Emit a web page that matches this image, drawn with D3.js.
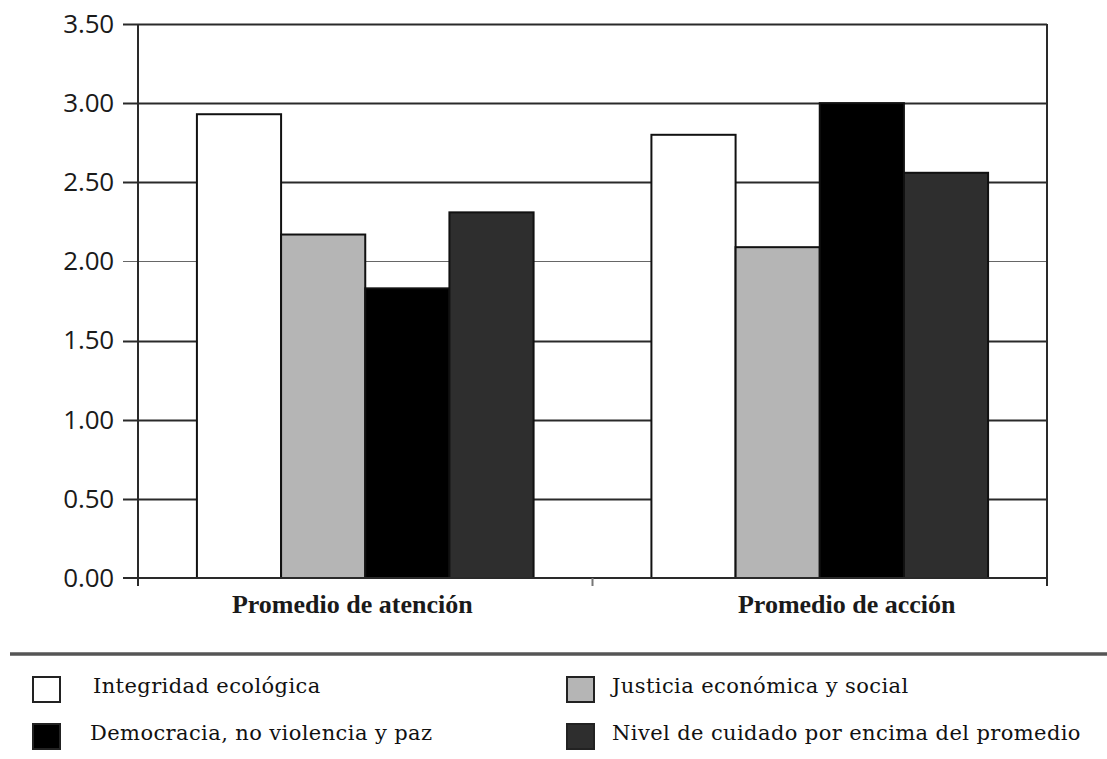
<!DOCTYPE html>
<html>
<head>
<meta charset="utf-8">
<script src="https://cdn.jsdelivr.net/npm/d3@7"></script>
<style>
  html, body { margin: 0; padding: 0; background: #fff; }
  svg { display: block; }
</style>
</head>
<body>
<svg id="chart" width="1107" height="759"></svg>
<script>
// Grouped values per indicator
const groups = ["Promedio de atención", "Promedio de acción"];
const seriesNames = [
  "Integridad ecológica",
  "Justicia económica y social",
  "Democracia, no violencia y paz",
  "Nivel de cuidado por encima del promedio"
];
const integridad = [2.93, 2.80];
const justicia = [2.17, 2.09];
const democracia = [1.83, 3.00];
const cuidado = [2.31, 2.56];
const yTicks = [0, 0.5, 1.0, 1.5, 2.0, 2.5, 3.0, 3.5];
const fills = ["#ffffff", "#b5b5b5", "#000000", "#2e2e2e"];

const seriesValues = [integridad, justicia, democracia, cuidado];

const svg = d3.select("#chart");
const plotLeft = 138, plotRight = 1047, plotTop = 24, plotBottom = 578;

const y = d3.scaleLinear().domain([0, 3.5]).range([plotBottom, plotTop]);
const x0 = d3.scaleBand().domain(groups).range([plotLeft, plotRight]).padding(0);
const x1 = d3.scaleBand().domain(d3.range(seriesNames.length))
  .range([0, x0.bandwidth()]).paddingInner(0).paddingOuter(0.7);

// horizontal grid lines with ticks sticking out to the left
const grid = svg.append("g");
grid.selectAll("line").data(yTicks.filter(d => d > 0)).join("line")
  .attr("x1", plotLeft - 15).attr("x2", plotRight)
  .attr("y1", d => Math.round(y(d)) + 0.5).attr("y2", d => Math.round(y(d)) + 0.5)
  .attr("stroke", d => d === 2.0 ? "#666" : "#2a2a2a")
  .attr("stroke-width", d => d === 2.0 ? 1.2 : 2);

// y axis labels
const yAxis = d3.axisLeft(y).tickValues(yTicks).tickFormat(d3.format(".2f"))
  .tickSize(0).tickPadding(24);
const ya = svg.append("g").attr("transform", `translate(${plotLeft},0)`).call(yAxis);
ya.select(".domain").remove();
ya.selectAll("text")
  .attr("font-family", "'Open Sans', sans-serif")
  .attr("font-size", 26)
  .attr("letter-spacing", "-0.2px")
  .attr("fill", "#1a1a1a");

// bars
const bars = svg.append("g");
groups.forEach((g, gi) => {
  bars.selectAll(null).data(seriesValues.map((vals, si) => ({ si, v: vals[gi] })))
    .join("rect")
    .attr("x", d => x0(g) + x1(d.si))
    .attr("y", d => y(d.v))
    .attr("width", x1.bandwidth())
    .attr("height", d => y(0) - y(d.v))
    .attr("fill", d => fills[d.si])
    .attr("stroke", "#111")
    .attr("stroke-width", 2);
});

// frame: left axis, right border, baseline
const frame = svg.append("g").attr("stroke", "#2a2a2a").attr("stroke-width", 2);
frame.append("line").attr("x1", plotLeft).attr("x2", plotLeft).attr("y1", plotTop).attr("y2", plotBottom + 8);
frame.append("line").attr("x1", plotRight).attr("x2", plotRight).attr("y1", plotTop).attr("y2", plotBottom + 8);
frame.append("line").attr("x1", plotLeft - 15).attr("x2", plotRight).attr("y1", plotBottom).attr("y2", plotBottom);
frame.append("line").attr("x1", x0(groups[1])).attr("x2", x0(groups[1]))
  .attr("y1", plotBottom).attr("y2", plotBottom + 8).attr("stroke", "#777");

// category labels
const labelShift = [-13, 27];
svg.append("g").selectAll("text").data(groups).join("text")
  .attr("x", (d, i) => x0(d) + x0.bandwidth() / 2 + labelShift[i])
  .attr("y", 613)
  .attr("text-anchor", "middle")
  .attr("font-family", "'Liberation Serif', serif")
  .attr("font-weight", "bold")
  .attr("font-size", 26)
  .attr("fill", "#1a1a1a")
  .text(d => d);

// separator above legend
svg.append("line").attr("x1", 10).attr("x2", 1107).attr("y1", 654).attr("y2", 654)
  .attr("stroke", "#555").attr("stroke-width", 3.5);

// legend
const legendPos = [
  { x: 33, y: 677, tx: 93 }, { x: 567, y: 677, tx: 612 },
  { x: 33, y: 724, tx: 90 }, { x: 567, y: 724, tx: 612 }
];
const legend = svg.append("g");
seriesNames.forEach((name, i) => {
  const p = legendPos[i];
  legend.append("rect").attr("x", p.x).attr("y", p.y).attr("width", 27).attr("height", 25)
    .attr("fill", fills[i]).attr("stroke", "#222").attr("stroke-width", 2);
  legend.append("text").attr("x", p.tx).attr("y", p.y + 16)
    .attr("font-family", "'DejaVu Serif', serif")
    .attr("font-size", 21)
    .attr("letter-spacing", "0.4px")
    .attr("fill", "#111")
    .text(name);
});
</script>
</body>
</html>
